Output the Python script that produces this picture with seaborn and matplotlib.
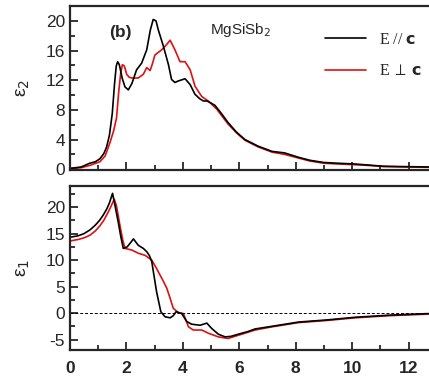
import numpy as np
import pandas as pd
import matplotlib
matplotlib.use("Agg")
import matplotlib.pyplot as plt
import seaborn as sns
from matplotlib.ticker import MultipleLocator

# Imaginary part (epsilon_2)
e2_par_x = [0.0, 0.4, 0.7, 0.9, 1.06, 1.2, 1.3, 1.4, 1.5, 1.58, 1.64, 1.69, 1.75, 1.85, 1.95, 2.07,
            2.2, 2.36, 2.54, 2.72, 2.85, 2.95, 3.05, 3.13, 3.31, 3.49, 3.6, 3.72, 3.84, 4.0, 4.08,
            4.26, 4.43, 4.6, 4.73, 4.85, 4.96, 5.14, 5.35, 5.6, 5.9, 6.2, 6.67, 7.16, 7.6, 8.1,
            8.5, 9.0, 9.5, 10.1, 10.6, 11.1, 11.8, 12.7]
e2_par_y = [0.1, 0.3, 0.8, 1.0, 1.4, 2.1, 3.0, 4.6, 7.5, 11.5, 13.9, 14.5, 14.1, 12.3, 11.1, 10.7,
            11.6, 13.4, 14.3, 16.1, 18.8, 20.2, 20.0, 18.8, 16.6, 14.1, 12.1, 11.7, 11.9, 12.1, 12.2,
            11.4, 10.1, 9.5, 9.2, 9.2, 9.0, 8.6, 7.6, 6.3, 5.0, 4.0, 3.1, 2.4, 2.2, 1.6,
            1.2, 0.9, 0.8, 0.7, 0.55, 0.4, 0.35, 0.3]
e2_perp_x = [0.0, 0.4, 0.7, 1.06, 1.25, 1.42, 1.55, 1.65, 1.73, 1.8, 1.86, 1.93, 2.01, 2.1, 2.19, 2.42,
             2.6, 2.72, 2.84, 2.92, 3.01, 3.25, 3.4, 3.55, 3.72, 3.9, 4.08, 4.26, 4.43, 4.67, 4.9,
             5.2, 5.4, 5.6, 5.9, 6.2, 6.67, 7.16, 7.6, 8.1, 8.5, 9.0, 9.5, 10.1, 10.6, 11.1, 11.8, 12.7]
e2_perp_y = [0.1, 0.2, 0.5, 1.0, 1.8, 3.6, 5.2, 6.9, 10.5, 13.0, 14.1, 13.9, 12.8, 12.4, 12.3, 12.3,
             12.8, 13.7, 13.3, 14.2, 15.4, 16.1, 16.7, 17.4, 16.1, 14.5, 14.5, 13.4, 11.2, 9.8, 9.2,
             8.1, 7.1, 6.1, 4.9, 3.9, 3.0, 2.3, 2.0, 1.5, 1.1, 0.8, 0.7, 0.6, 0.5, 0.35, 0.3, 0.25]

# Real part (epsilon_1)
e1_par_x = [0.0, 0.3, 0.5, 0.71, 0.9, 1.05, 1.18, 1.3, 1.4, 1.51, 1.6, 1.71, 1.8, 1.89, 2.03, 2.15,
            2.25, 2.42, 2.6, 2.72, 2.82, 2.9, 2.98, 3.07, 3.15, 3.22, 3.37, 3.55, 3.66, 3.76, 3.96,
            4.14, 4.31, 4.61, 4.85, 5.02, 5.26, 5.5, 5.7, 5.96, 6.3, 6.56, 7.16, 8.1, 9.1, 10.1,
            11.3, 12.7]
e1_par_y = [14.3, 14.6, 15.0, 15.7, 16.6, 17.5, 18.5, 19.6, 20.8, 22.6, 20.2, 17.2, 14.5, 12.2, 12.5, 13.3,
            14.0, 12.8, 12.2, 11.6, 10.8, 9.7, 7.0, 4.0, 2.0, 0.25, -0.7, -0.9, -0.5, 0.25, -0.1,
            -1.6, -2.1, -2.3, -1.9, -2.9, -4.0, -4.5, -4.4, -4.0, -3.5, -3.0, -2.5, -1.7, -1.3, -0.8,
            -0.4, -0.1]
e1_perp_x = [0.0, 0.3, 0.5, 0.71, 0.9, 1.05, 1.2, 1.35, 1.45, 1.57, 1.65, 1.77, 1.87, 1.95, 2.19, 2.42,
             2.66, 2.9, 3.05, 3.19, 3.31, 3.43, 3.55, 3.66, 3.84, 4.02, 4.1, 4.2, 4.37, 4.67, 4.9,
             5.26, 5.6, 5.96, 6.56, 7.16, 8.1, 9.1, 10.1, 11.3, 12.7]
e1_perp_y = [13.6, 13.9, 14.2, 14.7, 15.5, 16.4, 17.5, 19.0, 20.1, 21.5, 20.2, 16.6, 13.8, 12.2, 11.9, 11.3,
             10.9, 10.0, 8.6, 7.2, 6.0, 4.7, 2.8, 0.9, 0.1, -0.1, -1.2, -2.6, -3.2, -3.2, -3.8,
             -4.5, -4.8, -4.2, -3.2, -2.6, -1.8, -1.4, -0.9, -0.5, -0.2]

legend_labels = ["E // $\\mathbf{c}$", "E$\\,\\perp\\,\\mathbf{c}$"]

sns.set_theme(style="ticks")
plt.rcParams["font.family"] = ["Liberation Sans", "DejaVu Sans"]
plt.rcParams["axes.linewidth"] = 1.6
plt.rcParams["axes.unicode_minus"] = False

fig = plt.figure(figsize=(4.29, 3.81), dpi=100)
ax_top = fig.add_axes([0.163, 0.554, 0.837, 0.43])
ax_bot = fig.add_axes([0.163, 0.081, 0.837, 0.431])

df2a = pd.DataFrame({"x": e2_par_x, "y": e2_par_y})
df2b = pd.DataFrame({"x": e2_perp_x, "y": e2_perp_y})
df1a = pd.DataFrame({"x": e1_par_x, "y": e1_par_y})
df1b = pd.DataFrame({"x": e1_perp_x, "y": e1_perp_y})

sns.lineplot(data=df2b, x="x", y="y", ax=ax_top, color="#e01010", lw=1.2, label=legend_labels[1])
sns.lineplot(data=df2a, x="x", y="y", ax=ax_top, color="black", lw=1.2, label=legend_labels[0])
sns.lineplot(data=df1b, x="x", y="y", ax=ax_bot, color="#e01010", lw=1.2)
sns.lineplot(data=df1a, x="x", y="y", ax=ax_bot, color="black", lw=1.2)
ax_bot.axhline(0, color="black", lw=0.7, ls=(0, (3, 2)))

for ax in (ax_top, ax_bot):
    ax.set_xlim(0, 12.72)
    ax.xaxis.set_major_locator(MultipleLocator(2))
    ax.xaxis.set_minor_locator(MultipleLocator(1))
    ax.tick_params(which="both", direction="in", top=False, right=False, width=1.3)
    ax.tick_params(which="major", length=6)
    ax.tick_params(which="minor", length=3.5)
    ax.spines["right"].set_visible(False)
    ax.set_xlabel("")

ax_top.set_ylim(-0.1, 22)
ax_top.yaxis.set_major_locator(MultipleLocator(4))
ax_top.yaxis.set_minor_locator(MultipleLocator(2))
ax_top.tick_params(axis="x", labelbottom=False)
ax_top.tick_params(axis="y", labelsize=12.5)
ax_top.set_ylabel("\u03b5$_2$", fontsize=14, labelpad=10)

ax_bot.set_ylim(-7, 24)
ax_bot.yaxis.set_major_locator(MultipleLocator(5))
ax_bot.yaxis.set_minor_locator(MultipleLocator(2.5))
ax_bot.tick_params(axis="y", labelsize=12.5)
ax_bot.tick_params(axis="x", labelsize=12.5, pad=8)
for t in ax_bot.get_xticklabels():
    t.set_fontweight("bold")
ax_bot.set_ylabel("\u03b5$_1$", fontsize=14, labelpad=10)

ax_top.text(1.8, 18.5, "(b)", fontsize=12.5, fontweight="bold", ha="center", va="center")
ax_top.text(4.96, 18.8, "MgSiSb$_2$", fontsize=11, ha="left", va="center")

handles, labels = ax_top.get_legend_handles_labels()
leg = ax_top.legend(handles[::-1], labels[::-1], loc="upper right", bbox_to_anchor=(1.02, 0.93),
                    frameon=False, handlelength=2.6, labelspacing=0.95,
                    prop={"family": ["Liberation Serif", "DejaVu Serif"], "size": 11.5})

fig.savefig("out.png", dpi=100)
